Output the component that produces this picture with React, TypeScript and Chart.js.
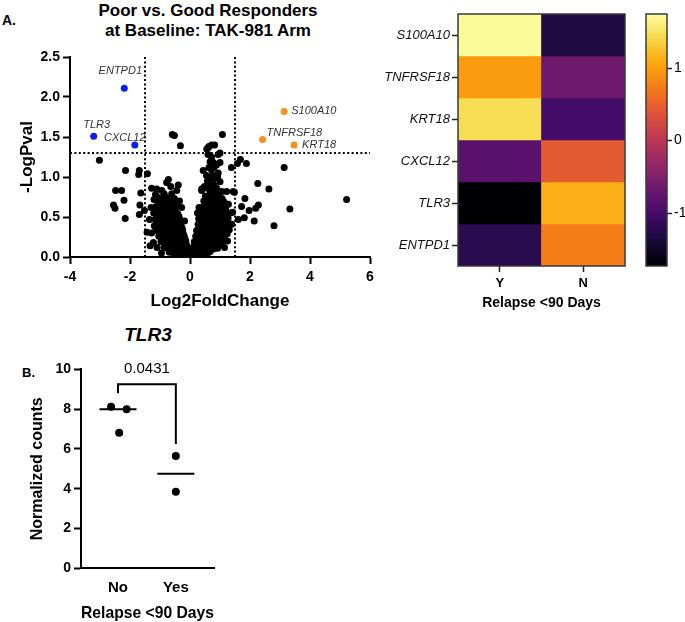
import React, { useEffect, useRef } from 'react';
import { Chart, registerables } from 'chart.js';
Chart.register(...registerables);

const FONT = 'Arial, "Liberation Sans", Helvetica, sans-serif';
Chart.defaults.font.family = FONT;
Chart.defaults.color = '#000';

// ---------- Panel A: volcano ----------
const VOLCANO_POINTS: [number, number][] = [
  // outliers
  [-3.02, 1.21], [-2.15, 1.08], [-2.48, 0.83], [-2.28, 0.83], [-2.2, 0.71], [-2.55, 0.65], [-2.5, 0.61],
  [-2.16, 0.48], [-1.69, 1.08], [-1.71, 1.03], [-1.42, 1.04], [-1.64, 0.8], [-1.67, 0.65], [-1.52, 0.58],
  [-1.69, 0.53], [-1.43, 0.31], [-1.33, 0.14], [-0.59, 1.53], [-0.52, 1.52], [-0.32, 1.39], [1.08, 1.53],
  [0.56, 1.35], [0.63, 1.38], [0.82, 1.4], [0.94, 1.28], [1.68, 1.22], [1.58, 1.17], [1.88, 1.17],
  [1.38, 1.12], [3.14, 1.12], [2.26, 0.92], [2.63, 0.85], [1.83, 0.73], [1.48, 0.81], [1.72, 0.63],
  [1.97, 0.58], [2.28, 0.65], [2.19, 0.61], [2.14, 0.45], [2.8, 0.39], [3.33, 0.6], [5.22, 0.72],
  [1.61, 0.47], [1.81, 0.49], [1.42, 0.56], [1.39, 0.41], [1.06, 0.19], [0.83, 0.15], [0.39, 0.83],
  // left arm, upper scatter
  [-0.72, 0.97], [-0.78, 0.93], [-0.39, 0.9], [-1.11, 0.85], [-1.28, 0.86], [-0.94, 0.83], [-0.61, 0.79],
  [-0.44, 0.83], [-0.83, 0.67], [-0.67, 0.69], [-0.56, 0.67], [-1.2, 0.72], [-1.02, 0.74], [-0.9, 0.71],
  [-1.3, 0.62], [-1.35, 0.47], [-1.28, 0.3], [-1.22, 0.18], [-1.1, 0.12], [-0.95, 0.05], [-0.28, 0.62],
  [-0.18, 0.45], [-0.35, 0.7], [-1.15, 0.78], [-0.98, 0.66], [-0.75, 0.74], [-0.52, 0.73], [-0.64, 0.88],
  [-0.86, 0.79], [-1.05, 0.68], [-0.45, 0.64],
  // left arm, dense
  [-1.13, 0.63], [-0.99, 0.6], [-0.86, 0.64], [-0.71, 0.61], [-0.58, 0.63], [-0.49, 0.59],
  [-1.06, 0.58], [-0.93, 0.58], [-0.8, 0.59], [-0.65, 0.58], [-0.54, 0.57],
  [-1.21, 0.55], [-1.06, 0.53], [-0.91, 0.56], [-0.77, 0.52], [-0.66, 0.55], [-0.53, 0.51], [-0.41, 0.54],
  [-1.12, 0.51], [-0.97, 0.5], [-0.84, 0.51], [-0.72, 0.5], [-0.6, 0.52], [-0.47, 0.5], [-0.37, 0.51],
  [-1.16, 0.47], [-1.01, 0.45], [-0.89, 0.49], [-0.79, 0.46], [-0.67, 0.44], [-0.54, 0.48], [-0.45, 0.45], [-0.34, 0.47],
  [-1.1, 0.43], [-0.98, 0.43], [-0.86, 0.42], [-0.75, 0.44], [-0.63, 0.43], [-0.51, 0.42], [-0.41, 0.43], [-0.31, 0.42],
  [-1.19, 0.39], [-1.04, 0.41], [-0.94, 0.38], [-0.81, 0.4], [-0.71, 0.37], [-0.59, 0.41], [-0.46, 0.38], [-0.38, 0.4], [-0.27, 0.37],
  [-1.14, 0.36], [-1.0, 0.35], [-0.9, 0.36], [-0.77, 0.35], [-0.66, 0.36], [-0.55, 0.36], [-0.44, 0.35], [-0.34, 0.36], [-0.25, 0.34],
  [-1.09, 0.33], [-0.97, 0.31], [-0.87, 0.34], [-0.74, 0.32], [-0.63, 0.3], [-0.52, 0.34], [-0.42, 0.31], [-0.32, 0.33], [-0.23, 0.3],
  [-1.01, 0.29], [-0.9, 0.28], [-0.76, 0.29], [-0.66, 0.28], [-0.58, 0.29], [-0.49, 0.3], [-0.39, 0.28], [-0.29, 0.29], [-0.2, 0.27],
  [-1.04, 0.26], [-0.93, 0.24], [-0.79, 0.27], [-0.69, 0.25], [-0.56, 0.23], [-0.47, 0.27], [-0.35, 0.24], [-0.27, 0.26], [-0.17, 0.23],
  [-0.93, 0.22], [-0.81, 0.22], [-0.68, 0.22], [-0.54, 0.21], [-0.43, 0.22], [-0.33, 0.21], [-0.23, 0.22], [-0.14, 0.2],
  [-0.97, 0.19], [-0.84, 0.17], [-0.73, 0.2], [-0.61, 0.18], [-0.49, 0.16], [-0.38, 0.19], [-0.28, 0.17], [-0.19, 0.18], [-0.11, 0.15],
  [-0.8, 0.15], [-0.67, 0.15], [-0.55, 0.14], [-0.42, 0.15], [-0.32, 0.14], [-0.22, 0.15], [-0.13, 0.13], [-0.06, 0.12],
  [-0.87, 0.12], [-0.75, 0.11], [-0.61, 0.13], [-0.46, 0.1], [-0.36, 0.12], [-0.25, 0.11], [-0.15, 0.09], [-0.08, 0.11],
  [-0.63, 0.09], [-0.5, 0.08], [-0.39, 0.09], [-0.29, 0.08], [-0.19, 0.08], [-0.1, 0.07], [-0.03, 0.08],
  [-0.69, 0.06], [-0.56, 0.05], [-0.43, 0.07], [-0.31, 0.05], [-0.21, 0.06], [-0.12, 0.04], [-0.04, 0.05],
  [-0.48, 0.03], [-0.4, 0.03], [-0.27, 0.03], [-0.17, 0.03], [-0.09, 0.03], [-0.02, 0.02],
  [-0.34, 0.02], [-0.23, 0.01], [-0.13, 0.02], [-0.06, 0.01],
  // right arm, upper scatter
  [0.61, 1.37], [0.72, 1.4], [1.0, 1.3], [0.72, 1.25], [0.67, 1.19], [1.0, 1.18], [0.8, 1.12], [0.44, 1.08],
  [0.72, 1.09], [0.94, 1.05], [0.83, 0.98], [1.0, 0.94], [0.8, 0.9], [0.69, 0.86], [0.89, 0.86], [0.39, 0.85],
  [0.67, 0.81], [1.06, 0.82], [1.22, 0.82], [1.44, 0.82], [0.58, 0.95], [0.75, 1.02], [0.6, 1.28], [0.88, 1.15],
  [1.28, 0.66], [1.35, 0.55], [1.25, 0.2], [1.15, 0.12], [0.3, 0.62], [0.25, 0.55],
  [0.55, 1.02], [0.63, 1.12], [0.78, 1.18], [0.92, 1.0], [0.65, 0.92], [0.48, 0.88], [0.7, 0.98], [0.85, 0.82], [0.59, 0.86],
  // right arm, dense
  [0.04, 0.02], [0.11, 0.01], [0.2, 0.03], [0.31, 0.02],
  [0.08, 0.04], [0.17, 0.04], [0.29, 0.04], [0.42, 0.04], [0.58, 0.04],
  [0.06, 0.06], [0.15, 0.07], [0.26, 0.05], [0.37, 0.08], [0.51, 0.06], [0.67, 0.07],
  [0.12, 0.09], [0.26, 0.09], [0.39, 0.1], [0.53, 0.09], [0.65, 0.09], [0.79, 0.1],
  [0.1, 0.12], [0.21, 0.11], [0.33, 0.13], [0.44, 0.12], [0.59, 0.11], [0.71, 0.13], [0.92, 0.11],
  [0.17, 0.15], [0.3, 0.15], [0.42, 0.16], [0.56, 0.15], [0.68, 0.15], [0.82, 0.16], [0.97, 0.15],
  [0.14, 0.19], [0.27, 0.18], [0.37, 0.2], [0.51, 0.17], [0.63, 0.2], [0.75, 0.18], [0.89, 0.21], [1.02, 0.18],
  [0.22, 0.22], [0.34, 0.23], [0.47, 0.22], [0.58, 0.23], [0.71, 0.22], [0.84, 0.23], [0.96, 0.22], [1.09, 0.22],
  [0.19, 0.26], [0.3, 0.25], [0.43, 0.27], [0.53, 0.24], [0.67, 0.27], [0.79, 0.25], [0.91, 0.28], [1.03, 0.25], [1.15, 0.27],
  [0.26, 0.29], [0.38, 0.3], [0.5, 0.29], [0.62, 0.3], [0.74, 0.29], [0.86, 0.3], [0.98, 0.29], [1.1, 0.3], [1.24, 0.29],
  [0.22, 0.33], [0.35, 0.34], [0.45, 0.32], [0.59, 0.34], [0.7, 0.31], [0.83, 0.34], [0.95, 0.32], [1.07, 0.35], [1.19, 0.32], [1.31, 0.34],
  [0.31, 0.37], [0.43, 0.37], [0.55, 0.38], [0.67, 0.37], [0.8, 0.37], [0.92, 0.36], [1.04, 0.38], [1.16, 0.37], [1.27, 0.38],
  [0.27, 0.41], [0.39, 0.39], [0.51, 0.42], [0.61, 0.4], [0.75, 0.41], [0.86, 0.38], [0.99, 0.42], [1.11, 0.4], [1.23, 0.42],
  [0.33, 0.44], [0.46, 0.45], [0.58, 0.44], [0.71, 0.45], [0.83, 0.44], [0.95, 0.45], [1.08, 0.44], [1.2, 0.45],
  [0.29, 0.48], [0.43, 0.49], [0.55, 0.47], [0.66, 0.5], [0.79, 0.47], [0.9, 0.49], [1.03, 0.46], [1.15, 0.5], [1.27, 0.48],
  [0.38, 0.52], [0.51, 0.52], [0.62, 0.53], [0.75, 0.52], [0.87, 0.52], [0.99, 0.53], [1.11, 0.52], [1.24, 0.52],
  [0.35, 0.55], [0.47, 0.56], [0.57, 0.54], [0.71, 0.57], [0.83, 0.55], [0.94, 0.57], [1.07, 0.54], [1.21, 0.56],
  [0.44, 0.59], [0.52, 0.6], [0.64, 0.59], [0.77, 0.6], [0.89, 0.59], [1.01, 0.6], [1.13, 0.59],
  [0.41, 0.62], [0.56, 0.63], [0.69, 0.61], [0.81, 0.64], [0.93, 0.62], [1.06, 0.63], [1.18, 0.61],
  [0.49, 0.66], [0.63, 0.66], [0.76, 0.67], [0.9, 0.66], [1.03, 0.66], [1.16, 0.66],
  [0.46, 0.7], [0.61, 0.69], [0.73, 0.71], [0.86, 0.68], [0.99, 0.7], [1.13, 0.69],
  [0.55, 0.73], [0.69, 0.73], [0.83, 0.73], [0.92, 0.74], [1.07, 0.73],
  [0.51, 0.76], [0.67, 0.77], [0.81, 0.75], [0.96, 0.77],
];

const UP_GENES = ['S100A10', 'TNFRSF18', 'KRT18'];
const UP_X = [3.14, 2.42, 3.47];
const UP_Y = [1.82, 1.47, 1.4];
const DOWN_GENES = ['ENTPD1', 'TLR3', 'CXCL12'];
const DOWN_X = [-2.19, -3.21, -1.84];
const DOWN_Y = [2.11, 1.51, 1.4];
const FC_CUTOFF = 1.5;
const P_CUTOFF = 1.3;

// ---------- Heatmap ----------
const HEAT_GENES = ['S100A10', 'TNFRSF18', 'KRT18', 'CXCL12', 'TLR3', 'ENTPD1'];
const HEAT_CONDITIONS = ['Y', 'N'];
const HEAT_Y = [1.7, 0.98, 1.45, -0.82, -1.73, -1.22];
const HEAT_N = [-1.3, -0.66, -1.02, 0.45, 1.12, 0.74];
const Z_MIN = -1.73;
const Z_MAX = 1.745;
const COLORBAR_TICKS = [-1, 0, 1];

// ---------- Panel B ----------
const GROUPS = ['No', 'Yes'];
const NO_X = [-0.12, 0.15, 0.02];
const NO_VALUES = [8.12, 7.99, 6.81];
const YES_X = [1.0, 1.0];
const YES_VALUES = [5.64, 3.85];
const P_VALUE_TEXT = '0.0431';
const BRACKET_LEFT_Y = 8.8;
const BRACKET_TOP_Y = 9.25;
const BRACKET_RIGHT_Y = 6.25;

const INFERNO = ['#000004', '#160b39', '#420a68', '#6a176e', '#932667', '#bc3754', '#dd513a', '#f37819', '#fca50a', '#f6d746', '#fcffa4'];

function hexToRgb(h: string) {
  return [parseInt(h.slice(1, 3), 16), parseInt(h.slice(3, 5), 16), parseInt(h.slice(5, 7), 16)];
}
function inferno(t: number) {
  const tt = Math.max(0, Math.min(1, t)) * (INFERNO.length - 1);
  const i = Math.min(Math.floor(tt), INFERNO.length - 2);
  const f = tt - i;
  const a = hexToRgb(INFERNO[i]);
  const b = hexToRgb(INFERNO[i + 1]);
  const c = a.map((v, k) => Math.round(v + (b[k] - v) * f));
  return `rgb(${c[0]},${c[1]},${c[2]})`;
}
function median(v: number[]) {
  const s = [...v].sort((a, b) => a - b);
  const m = Math.floor(s.length / 2);
  return s.length % 2 ? s[m] : (s[m - 1] + s[m]) / 2;
}

const axisBold = (size: number) => ({ family: FONT, size, weight: 'bold' as const });

export default function App() {
  const volRef = useRef<HTMLCanvasElement>(null);
  const heatRef = useRef<HTMLCanvasElement>(null);
  const barRef = useRef<HTMLCanvasElement>(null);
  const dotRef = useRef<HTMLCanvasElement>(null);

  useEffect(() => {
    const charts: Chart[] = [];

    // ---------- volcano ----------
    const labelOffsets: Record<string, { dx: number; dy: number; align: CanvasTextAlign }> = {
      ENTPD1: { dx: -4, dy: -17, align: 'center' },
      TLR3: { dx: 3, dy: -11, align: 'center' },
      CXCL12: { dx: -10, dy: -7, align: 'center' },
      S100A10: { dx: 7, dy: 0, align: 'left' },
      TNFRSF18: { dx: 4, dy: -6, align: 'left' },
      KRT18: { dx: 8, dy: 0, align: 'left' },
    };
    const volLabels = {
      id: 'volLabels',
      afterDatasetsDraw(chart: any) {
        const { ctx, scales } = chart;
        ctx.save();
        ctx.font = `italic 11px ${FONT}`;
        ctx.fillStyle = '#333';
        ctx.textBaseline = 'middle';
        const draw = (names: string[], xs: number[], ys: number[]) => {
          names.forEach((n, i) => {
            const o = labelOffsets[n];
            ctx.textAlign = o.align;
            ctx.fillText(n, scales.x.getPixelForValue(xs[i]) + o.dx, scales.y.getPixelForValue(ys[i]) + o.dy);
          });
        };
        draw(UP_GENES, UP_X, UP_Y);
        draw(DOWN_GENES, DOWN_X, DOWN_Y);
        ctx.restore();
      },
    };
    const dotted = (pts: { x: number; y: number }[]) => ({
      data: pts,
      showLine: true,
      borderColor: '#000',
      borderWidth: 2,
      borderDash: [2, 2.4],
      pointRadius: 0,
      order: 5,
    });
    charts.push(
      new Chart(volRef.current!, {
        type: 'scatter',
        data: {
          datasets: [
            dotted([{ x: -FC_CUTOFF, y: 0 }, { x: -FC_CUTOFF, y: 2.5 }]),
            dotted([{ x: FC_CUTOFF, y: 0 }, { x: FC_CUTOFF, y: 2.5 }]),
            dotted([{ x: -4, y: P_CUTOFF }, { x: 6, y: P_CUTOFF }]),
            { data: VOLCANO_POINTS.map(([x, y]) => ({ x, y })), backgroundColor: '#000', borderWidth: 0, pointRadius: 3.5, order: 2 },
            { data: UP_X.map((x, i) => ({ x, y: UP_Y[i] })), backgroundColor: '#f7901e', borderWidth: 0, pointRadius: 3.5, order: 1 },
            { data: DOWN_X.map((x, i) => ({ x, y: DOWN_Y[i] })), backgroundColor: '#0b1ef2', borderWidth: 0, pointRadius: 3.5, order: 1 },
          ] as any,
        },
        options: {
          responsive: false,
          animation: false,
          layout: { padding: { top: 17, right: 10, left: 0, bottom: 0 } },
          plugins: { legend: { display: false }, tooltip: { enabled: false } },
          scales: {
            x: {
              type: 'linear',
              min: -4,
              max: 6,
              ticks: { stepSize: 2, font: axisBold(14), color: '#000', padding: 5 },
              grid: { drawOnChartArea: false, drawTicks: true, tickLength: 7, tickWidth: 2, tickColor: '#000' },
              border: { color: '#000', width: 2 },
              title: { display: true, text: 'Log2FoldChange', font: { ...axisBold(17), lineHeight: 1 }, color: '#000', padding: { top: 0, bottom: 0 } },
              afterFit: (s: any) => { s.height = 53; },
            },
            y: {
              type: 'linear',
              min: 0,
              max: 2.5,
              ticks: { stepSize: 0.5, font: axisBold(14), color: '#000', padding: 3, callback: (v: any) => Number(v).toFixed(1) },
              grid: { drawOnChartArea: false, drawTicks: true, tickLength: 7, tickWidth: 2, tickColor: '#000' },
              border: { color: '#000', width: 2 },
              title: { display: true, text: '-LogPval', font: { ...axisBold(17), lineHeight: 1 }, color: '#000', padding: { top: 18.5, bottom: 0 } },
              afterFit: (s: any) => { s.width = 70; },
            },
          },
        } as any,
        plugins: [volLabels],
      })
    );

    // ---------- heatmap ----------
    const frame = {
      id: 'frame',
      afterDatasetsDraw(chart: any) {
        const { ctx, chartArea: a } = chart;
        ctx.save();
        ctx.strokeStyle = '#3a3a3a';
        ctx.lineWidth = 1.5;
        ctx.strokeRect(a.left, a.top, a.right - a.left, a.bottom - a.top);
        ctx.restore();
      },
    };
    const heatVals = HEAT_GENES.map((_, i) => [HEAT_Y[i], HEAT_N[i]]);
    charts.push(
      new Chart(heatRef.current!, {
        type: 'bar',
        data: {
          labels: HEAT_CONDITIONS,
          datasets: HEAT_GENES.map((g, i) => ({
            label: g,
            data: HEAT_CONDITIONS.map(() => [i, i + 1]),
            backgroundColor: heatVals[i].map((v) => inferno((v - Z_MIN) / (Z_MAX - Z_MIN))),
            borderWidth: 0,
            grouped: false,
            barPercentage: 1,
            categoryPercentage: 1,
          })) as any,
        },
        options: {
          responsive: false,
          animation: false,
          layout: { padding: { top: 14, right: 10, left: 0, bottom: 0 } },
          plugins: { legend: { display: false }, tooltip: { enabled: false } },
          scales: {
            x: {
              type: 'category',
              grid: { offset: false, drawOnChartArea: false, drawTicks: true, tickLength: 6, tickWidth: 1.5, tickColor: '#222' },
              border: { display: false },
              ticks: { font: axisBold(13), color: '#000', padding: 4 },
              title: { display: true, text: 'Relapse <90 Days', font: { ...axisBold(14), lineHeight: 1 }, color: '#000', padding: { top: 0, bottom: 5 } },
              afterFit: (s: any) => { s.height = 49; },
            },
            y: {
              type: 'linear',
              min: 0,
              max: HEAT_GENES.length,
              reverse: true,
              afterBuildTicks: (axis: any) => { axis.ticks = HEAT_GENES.map((_, i) => ({ value: i + 0.5 })); },
              ticks: { font: { family: FONT, size: 13, style: 'italic' }, color: '#111', padding: 2, callback: (_v: any, i: number) => HEAT_GENES[i] },
              grid: { drawOnChartArea: false, drawTicks: true, tickLength: 6, tickWidth: 1.5, tickColor: '#222' },
              border: { display: false },
              afterFit: (s: any) => { s.width = 88; },
            },
          },
        } as any,
        plugins: [frame],
      })
    );

    // ---------- colorbar ----------
    const gradient = {
      id: 'gradient',
      beforeDatasetsDraw(chart: any) {
        const { ctx, chartArea: a, scales } = chart;
        const y = scales.y;
        const g = ctx.createLinearGradient(0, y.getPixelForValue(Z_MIN), 0, y.getPixelForValue(Z_MAX));
        INFERNO.forEach((c, i) => g.addColorStop(i / (INFERNO.length - 1), c));
        ctx.save();
        ctx.fillStyle = g;
        ctx.fillRect(a.left, a.top, a.right - a.left, a.bottom - a.top);
        ctx.strokeStyle = '#3a3a3a';
        ctx.lineWidth = 1.5;
        ctx.strokeRect(a.left, a.top, a.right - a.left, a.bottom - a.top);
        ctx.restore();
      },
    };
    charts.push(
      new Chart(barRef.current!, {
        type: 'bar',
        data: { labels: [''], datasets: [] },
        options: {
          responsive: false,
          animation: false,
          layout: { padding: { top: 14, right: 0, left: 6, bottom: 49 } },
          plugins: { legend: { display: false }, tooltip: { enabled: false } },
          scales: {
            x: { display: false },
            y: {
              type: 'linear',
              position: 'right',
              min: Z_MIN,
              max: Z_MAX,
              afterBuildTicks: (axis: any) => { axis.ticks = COLORBAR_TICKS.map((v) => ({ value: v })); },
              ticks: { font: { family: FONT, size: 14 }, color: '#000', padding: 2, callback: (v: any) => String(v) },
              grid: { drawOnChartArea: false, drawTicks: true, tickLength: 5, tickWidth: 1.5, tickColor: '#222' },
              border: { display: false },
              afterFit: (s: any) => { s.width = 18; },
            },
          },
        } as any,
        plugins: [gradient],
      })
    );

    // ---------- panel B ----------
    const MEDIAN_HALF = 0.32;
    const noMed = median(NO_VALUES);
    const yesMed = median(YES_VALUES);
    const pText = {
      id: 'pText',
      afterDatasetsDraw(chart: any) {
        const { ctx, scales } = chart;
        ctx.save();
        ctx.font = `15px ${FONT}`;
        ctx.fillStyle = '#000';
        ctx.textAlign = 'center';
        ctx.textBaseline = 'middle';
        ctx.fillText(P_VALUE_TEXT, scales.x.getPixelForValue(0.5), scales.y.getPixelForValue(10));
        ctx.restore();
      },
    };
    const line = (pts: { x: number; y: number }[]) => ({
      data: pts,
      showLine: true,
      borderColor: '#000',
      borderWidth: 2,
      pointRadius: 0,
    });
    charts.push(
      new Chart(dotRef.current!, {
        type: 'scatter',
        data: {
          datasets: [
            { data: NO_X.map((x, i) => ({ x, y: NO_VALUES[i] })), backgroundColor: '#000', borderWidth: 0, pointRadius: 4 },
            { data: YES_X.map((x, i) => ({ x, y: YES_VALUES[i] })), backgroundColor: '#000', borderWidth: 0, pointRadius: 4 },
            line([{ x: -MEDIAN_HALF, y: noMed }, { x: MEDIAN_HALF, y: noMed }]),
            line([{ x: 1 - MEDIAN_HALF, y: yesMed }, { x: 1 + MEDIAN_HALF, y: yesMed }]),
            line([
              { x: 0, y: BRACKET_LEFT_Y },
              { x: 0, y: BRACKET_TOP_Y },
              { x: 1, y: BRACKET_TOP_Y },
              { x: 1, y: BRACKET_RIGHT_Y },
            ]),
          ] as any,
        },
        options: {
          responsive: false,
          animation: false,
          layout: { padding: { top: 24.3, right: 16, left: 0, bottom: 0 } },
          plugins: { legend: { display: false }, tooltip: { enabled: false } },
          scales: {
            x: {
              type: 'linear',
              min: -0.64,
              max: 1.66,
              afterBuildTicks: (axis: any) => { axis.ticks = GROUPS.map((_, i) => ({ value: i })); },
              ticks: { font: axisBold(15), color: '#000', padding: 11, callback: (_v: any, i: number) => GROUPS[i] },
              grid: { drawOnChartArea: false, drawTicks: false },
              border: { color: '#000', width: 2 },
              title: { display: true, text: 'Relapse <90 Days', font: { ...axisBold(17), lineHeight: 1 }, color: '#000', padding: { top: 0, bottom: 0 } },
              afterFit: (s: any) => { s.height = 53.7; },
            },
            y: {
              type: 'linear',
              min: 0,
              max: 10,
              ticks: { stepSize: 2, font: axisBold(14), color: '#000', padding: 3 },
              grid: { drawOnChartArea: false, drawTicks: true, tickLength: 7, tickWidth: 2, tickColor: '#000' },
              border: { color: '#000', width: 2 },
              title: { display: true, text: 'Normalized counts', font: { ...axisBold(16), lineHeight: 1 }, color: '#000', padding: { top: 30, bottom: 0 } },
              afterFit: (s: any) => { s.width = 81; },
            },
          },
        } as any,
        plugins: [pText],
      })
    );

    return () => charts.forEach((c) => c.destroy());
  }, []);

  const abs = (left: number, top: number): React.CSSProperties => ({ position: 'absolute', left, top, display: 'block' });

  return (
    <div style={{ position: 'absolute', left: 0, top: 0, width: 685, height: 622, background: '#fff', fontFamily: FONT, color: '#000', overflow: 'hidden' }}>
      <div style={{ position: 'absolute', left: 2, top: 13, fontWeight: 'bold', fontSize: 14, lineHeight: '14px' }}>A.</div>
      <div style={{ position: 'absolute', left: 0, top: 1, width: 416, textAlign: 'center', fontWeight: 'bold', fontSize: 17, lineHeight: '20px' }}>
        Poor vs. Good Responders
        <br />
        at Baseline: TAK-981 Arm
      </div>
      <canvas ref={volRef} width={380} height={270} style={abs(0, 40)} />
      <canvas ref={heatRef} width={265} height={315} style={abs(370, 0)} />
      <canvas ref={barRef} width={45} height={315} style={abs(640, 0)} />
      <div style={{ position: 'absolute', left: 48, top: 324, width: 200, textAlign: 'center', fontWeight: 'bold', fontStyle: 'italic', fontSize: 19, lineHeight: '22px' }}>TLR3</div>
      <div style={{ position: 'absolute', left: 22, top: 366, fontWeight: 'bold', fontSize: 13, lineHeight: '14px' }}>B.</div>
      <canvas ref={dotRef} width={230} height={277} style={abs(0, 345)} />
    </div>
  );
}
